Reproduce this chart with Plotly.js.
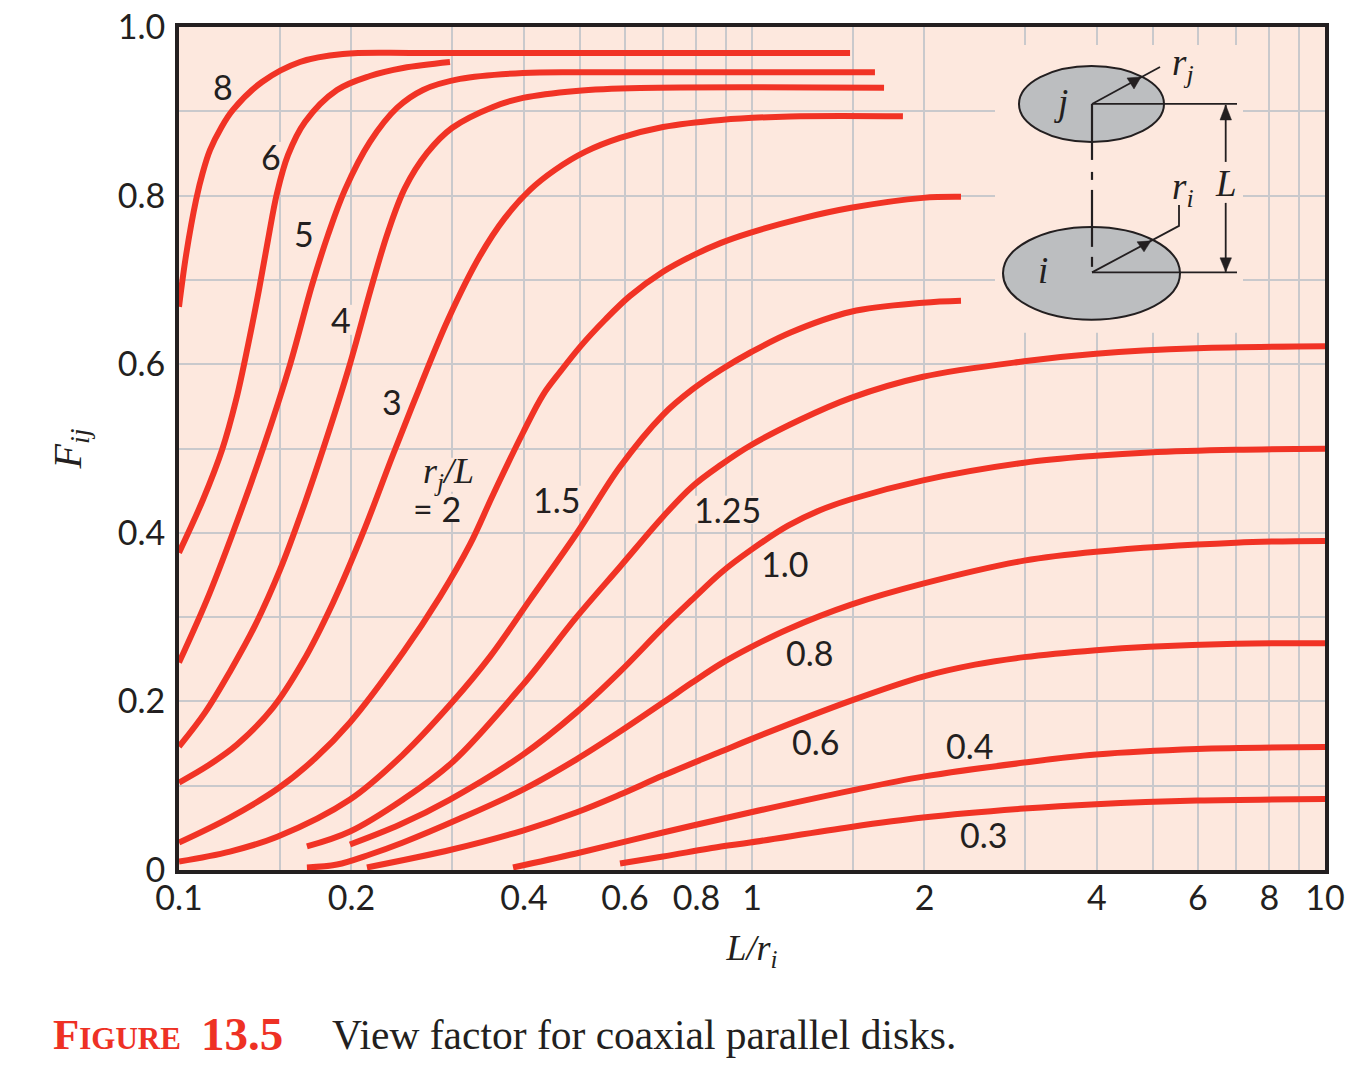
<!DOCTYPE html>
<html><head><meta charset="utf-8">
<script src="https://cdn.plot.ly/plotly-3.0.1.min.js"></script>
<style>html,body{margin:0;padding:0;background:#fff}</style></head>
<body><div id="chart" style="width:1367px;height:1073px"></div>
<script>
// ---- data: L/r_i (x) and F_ij (y) for each r_j/L ----
var x8=[0.1,0.1029,0.1071,0.1101,0.1133,0.1184,0.1242,0.1396,0.1626,0.1932,0.2666,1.483];
var y8=[0.6681,0.7297,0.7949,0.8281,0.8542,0.8803,0.9017,0.9348,0.9585,0.968,0.9692,0.9692];
var x6=[0.1,0.1101,0.1189,0.1258,0.132,0.1379,0.143,0.1483,0.155,0.1659,0.1887,0.2154,0.246,0.2971];
var y6=[0.3764,0.4392,0.4985,0.5578,0.623,0.6882,0.7475,0.8032,0.8482,0.8874,0.9253,0.9419,0.9514,0.9585];
var x5=[0.1,0.1119,0.1242,0.1401,0.1562,0.1707,0.182,0.1948,0.2154,0.2401,0.2666,0.3093,0.3984,0.5428,1.639];
var y5=[0.246,0.3207,0.4001,0.4997,0.5993,0.6941,0.7534,0.8068,0.8637,0.904,0.9253,0.9384,0.9455,0.9463,0.9463];
var x4=[0.1,0.111,0.1227,0.1357,0.1501,0.1659,0.1835,0.1988,0.2172,0.2316,0.248,0.271,0.2995,0.3532,0.3984,0.4932,0.6376,1.7];
var y4=[0.1464,0.1867,0.2353,0.2898,0.3562,0.4357,0.5246,0.6005,0.6941,0.7569,0.8091,0.8506,0.8802,0.9052,0.9159,0.9242,0.9277,0.928];
var x3=[0.1,0.1124,0.1263,0.1459,0.1646,0.1857,0.2095,0.2363,0.2634,0.2947,0.3352,0.3706,0.4099,0.4532,0.5112,0.5884,0.6993,0.883,1.165,1.834];
var y3=[0.1037,0.1239,0.1488,0.1926,0.2472,0.3171,0.4001,0.4926,0.5732,0.6527,0.7285,0.7735,0.8068,0.8305,0.8518,0.8684,0.8814,0.8898,0.8939,0.8941];
var x2=[0.1,0.1227,0.1488,0.1727,0.1988,0.246,0.2855,0.3218,0.3532,0.3984,0.4319,0.4626,0.5011,0.5541,0.6126,0.6993,0.786,0.883,0.992,1.213,1.489,1.988,2.316];
var y2=[0.0326,0.0622,0.0966,0.1322,0.1749,0.2579,0.3243,0.3859,0.4452,0.5187,0.5637,0.591,0.6206,0.6527,0.681,0.7096,0.7285,0.7439,0.7558,0.7724,0.7855,0.7973,0.7985];
var x15=[0.1,0.1227,0.1488,0.1988,0.246,0.2995,0.349,0.4099,0.4952,0.5884,0.6993,0.786,0.883,0.992,1.165,1.489,1.988,2.316];
var y15=[0.0101,0.0219,0.0397,0.0836,0.1369,0.1986,0.2531,0.3207,0.4001,0.4784,0.54,0.5697,0.5934,0.6136,0.6373,0.6622,0.6728,0.6752];
var x125=[0.1672,0.1988,0.246,0.2995,0.3984,0.4932,0.5884,0.6993,0.786,0.883,0.992,1.213,1.489,1.988,2.984,3.984,5.98,10];
var y125=[0.0279,0.0456,0.0836,0.1274,0.2199,0.2993,0.3598,0.4191,0.4547,0.4807,0.5033,0.5341,0.5601,0.5851,0.6034,0.6123,0.6188,0.6212];
var x10=[0.1988,0.2431,0.2971,0.3984,0.4932,0.5884,0.6993,0.786,0.883,0.992,1.156,1.314,1.489,1.988,2.984,3.984,4.93,6.99,10];
var y10=[0.0302,0.0539,0.0836,0.1369,0.1867,0.2353,0.2875,0.3207,0.3527,0.3788,0.4084,0.4268,0.4398,0.4622,0.4831,0.4914,0.4954,0.4985,0.4997];
var x08=[0.1672,0.1887,0.2154,0.246,0.3093,0.3984,0.4932,0.5884,0.6993,0.786,0.883,0.992,1.156,1.489,1.988,2.984,3.984,6.99,10];
var y08=[0.003,0.0065,0.0184,0.0326,0.061,0.0954,0.131,0.1642,0.1986,0.2223,0.2448,0.2638,0.2857,0.3148,0.3397,0.367,0.3776,0.3883,0.3904];
var x06=[0.2128,0.2995,0.3984,0.4932,0.5884,0.6993,0.883,0.992,1.489,1.988,2.45,2.984,3.984,4.93,6.99,10];
var y06=[0.003,0.0243,0.0468,0.0682,0.0895,0.112,0.1405,0.1547,0.2009,0.2294,0.2436,0.2525,0.2608,0.2649,0.2685,0.2691];
var x04=[0.3828,0.4932,0.6993,0.992,1.489,1.988,2.984,3.984,5.98,10];
var y04=[0.003,0.0196,0.0445,0.0682,0.0942,0.1108,0.1274,0.1369,0.1434,0.1458];
var x03=[0.5884,0.6993,0.883,0.992,1.489,1.988,2.984,3.984,5.98,10];
var y03=[0.0077,0.016,0.0279,0.0326,0.0511,0.0622,0.0729,0.0781,0.0824,0.0843];
var seriesNames=['8','6','5','4','3','2','1.5','1.25','1.0','0.8','0.6','0.4','0.3'];
var xTickVals=[0.1,0.15,0.2,0.3,0.4,0.5,0.6,0.7,0.8,0.9,1,1.5,2,3,4,5,6,7,8,9,10];
var xTickText=['0.1','','0.2','','0.4','','0.6','','0.8','','1','','2','','4','','6','','8','','10'];
var yTickVals=[0,0.1,0.2,0.3,0.4,0.5,0.6,0.7,0.8,0.9,1];
var yTickText=['0','','0.2','','0.4','','0.6','','0.8','','1.0'];

// ---- styles ----
var INK='#231f20', RED='#f13325', BG='#fde8de', GRID='#c9c9cc', DISK='#bcbec0';
var SANS='Lato, sans-serif', SERIF='"Liberation Serif", serif';
var xs=[x8,x6,x5,x4,x3,x2,x15,x125,x10,x08,x06,x04,x03];
var ys=[y8,y6,y5,y4,y3,y2,y15,y125,y10,y08,y06,y04,y03];
var traces=seriesNames.map(function(n,i){
  return {x:xs[i],y:ys[i],name:n,mode:'lines',hoverinfo:'skip',showlegend:false,
    line:{color:RED,width:6,shape:'spline',smoothing:1}};
});

// ---- page-pixel helpers for the inset sketch and text placement ----
var PL=179,PR=1325,PT=27,PB=870.5;
function px(x){return (x-PL)/(PR-PL);}
function py(y){return (PB-y)/(PB-PT);}
function dx(x){return Math.pow(10,2*px(x)-1);}
function path(pts,close){
  return pts.map(function(p,i){return (i?'L':'M')+px(p[0])+' '+py(p[1]);}).join(' ')+(close?' Z':'');
}
function seg(pts,w){return {type:'path',xref:'paper',yref:'paper',layer:'above',path:path(pts),line:{color:INK,width:w||1.8}};}
function tri(pts){return {type:'path',xref:'paper',yref:'paper',layer:'above',path:path(pts,true),fillcolor:INK,line:{color:INK,width:0.5}};}
function ell(x0,x1,y0,y1){return {type:'circle',xref:'paper',yref:'paper',layer:'above',x0:px(x0),x1:px(x1),y0:py(y0),y1:py(y1),fillcolor:DISK,line:{color:INK,width:2}};}
function mask(x0,x1,y0,y1){return {type:'rect',xref:'x',yref:'y',layer:'between',x0:dx(x0),x1:dx(x1),y0:py(y0),y1:py(y1),fillcolor:BG,line:{width:0}};}
var shapes=[
  mask(995,1243,45,333),
  mask(212,234,72,102),mask(261,282,142,172),mask(294,314,219,249),mask(330,352,305,335),mask(382,402,387,417),
  mask(420,476,458,492),mask(412,462,494,522),mask(531,581,486,514),mask(692,762,496,524),mask(760,810,550,578),
  mask(784,834,639,667),mask(790,840,728,756),mask(944,994,732,760),mask(958,1008,821,849),
  ell(1019,1164,66,142), ell(1003,1180,227,320),
  seg([[1092,104],[1092,160]],2.2), seg([[1092,172],[1092,180]],2.2), seg([[1092,190],[1092,247]],2.2), seg([[1092,257],[1092,267]],2.2),
  seg([[1092,104],[1237,104]]), seg([[1092,272.5],[1237,272.5]]),
  seg([[1092,104],[1160,67]]), seg([[1092,272.5],[1179,226],[1179,205]]),
  tri([[1141,77],[1127,78],[1134,89]]), tri([[1151,241],[1137,242],[1144,252]]),
  seg([[1225.7,105],[1225.7,162]]), seg([[1225.7,203],[1225.7,272]]),
  tri([[1225.7,105],[1220,120],[1231.5,120]]), tri([[1225.7,272],[1220,258],[1231.5,258]])
];
function label(t,x,y,opts){
  opts=opts||{};
  return {xref:'paper',yref:'paper',x:px(x),y:py(y),text:t,showarrow:false,xanchor:opts.anchor||'center',yanchor:'middle',
    font:{family:opts.family||SANS,size:opts.size||34,color:opts.color||INK,weight:opts.weight||400}};
}
var ser={family:SERIF,size:37};
var annotations=[
  label('8',223,87),label('6',271,157),label('5',304,234),label('4',341,320),label('3',392,402),
  label('<i>r<sub>j</sub>/L</i>',448,474,{family:SERIF,size:36}),label('= 2',437,509),
  label('1.5',556,500),label('1.25',727,510),label('1.0',785,564),label('0.8',809,653),
  label('0.6',815,742),label('0.4',969,746),label('0.3',983,835),
  label('<i>j</i>',1061,103,ser),label('<i>i</i>',1043,271,ser),
  label('<i>r<sub>j</sub></i>',1183,66,ser),label('<i>r<sub>i</sub></i>',1183,190,ser),label('<i>L</i>',1226,184,ser),
  label('<b><span style="font-size:43px">F</span>IGURE</b>',51,1035,{anchor:'left',family:SERIF,size:31,color:'#ee3124',weight:700}),
  label('<b>13.5</b>',199,1035,{anchor:'left',family:SERIF,size:47,color:'#ee3124',weight:700}),
  label('View factor for coaxial parallel disks.',329.5,1036,{anchor:'left',family:SERIF,size:41.5})
];
var layout={
  width:1367,height:1073,paper_bgcolor:'#ffffff',plot_bgcolor:BG,showlegend:false,
  margin:{l:PL,r:1367-PR,t:PT,b:1073-PB,pad:0},
  xaxis:{type:'log',range:[-1,1],tickmode:'array',tickvals:xTickVals,ticktext:xTickText,
    showgrid:true,gridcolor:GRID,gridwidth:2,zeroline:false,showline:true,mirror:true,linecolor:INK,linewidth:4,
    ticks:'',tickangle:0,ticklabelstandoff:-5,tickfont:{family:SANS,size:34,color:INK,weight:400},
    title:{text:'<i>L/r<sub>i</sub></i>',font:{family:SERIF,size:36,color:INK},standoff:20}},
  yaxis:{range:[0,1],tickmode:'array',tickvals:yTickVals,ticktext:yTickText,
    showgrid:true,gridcolor:GRID,gridwidth:2,zeroline:false,showline:true,mirror:true,linecolor:INK,linewidth:4,
    ticks:'',ticklabelstandoff:3,tickfont:{family:SANS,size:34,color:INK,weight:400},
    title:{text:'<i>F<sub>ij</sub></i>',font:{family:SERIF,size:40,color:INK},standoff:25}},
  shapes:shapes,annotations:annotations
};
Plotly.newPlot('chart',traces,layout,{displayModeBar:false,staticPlot:true});
</script></body></html>
